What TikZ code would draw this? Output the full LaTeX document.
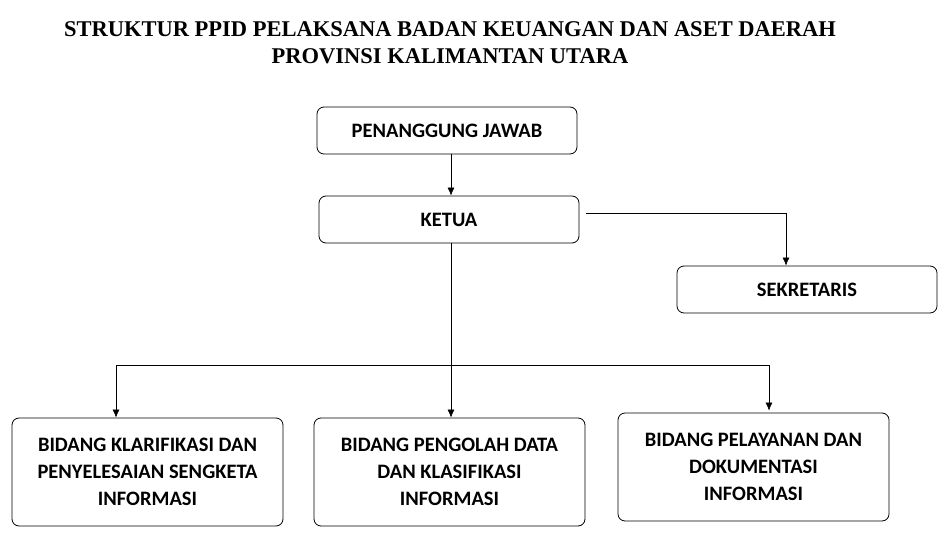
\documentclass[tikz,border=0pt]{standalone}
\usetikzlibrary{arrows.meta}
\usepackage{fontspec}
\newfontfamily\boxfont{Carlito}
\newfontfamily\titlefont{Liberation Serif}
\begin{document}
\begin{tikzpicture}[x=1pt,y=-1pt,
  box/.style={draw,thick,rounded corners=7pt,align=center,font=\boxfont\bfseries\fontsize{20.5}{27}\selectfont,inner sep=0pt},
  conn/.style={-{Latex[length=8pt,width=7pt]},line width=0.6pt},
  ln/.style={line width=0.6pt}]
\useasboundingbox (0,0) rectangle (950,548);
\node[font=\titlefont\bfseries\fontsize{22.5}{27}\selectfont,align=center] (title) at (450,43) {STRUKTUR PPID PELAKSANA BADAN KEUANGAN DAN ASET DAERAH\\PROVINSI KALIMANTAN UTARA};
\node[box,minimum width=260pt,minimum height=47pt] (pj) at (447,130.5) {PENANGGUNG JAWAB};
\node[box,minimum width=260pt,minimum height=47pt] (ketua) at (449,219.5) {KETUA};
\node[box,minimum width=260pt,minimum height=47pt] (sek) at (807,289.5) {SEKRETARIS};
\node[box,minimum width=271pt,minimum height=108pt] (b1) at (147.5,472) {BIDANG KLARIFIKASI DAN\\PENYELESAIAN SENGKETA\\INFORMASI};
\node[box,minimum width=271pt,minimum height=108pt] (b2) at (449.5,472) {BIDANG PENGOLAH DATA\\DAN KLASIFIKASI\\INFORMASI};
\node[box,minimum width=271pt,minimum height=108pt] (b3) at (753.5,467) {BIDANG PELAYANAN DAN\\DOKUMENTASI\\INFORMASI};
\coordinate (ks) at (586,213);
\coordinate (bus) at (451,365);
\draw[conn] (451,154) -- (ketua.north -| 451,0);
\draw[conn] (ks) -| (sek.north -| 786,0);
\draw[conn] (ketua.south -| bus) -- (b2.north -| bus);
\draw[ln] (116,365) -- (769,365);
\draw[conn] (116,365) -- (b1.north -| 116,0);
\draw[conn] (769,365) -- ([yshift=2pt]b3.north -| 769,0);
\end{tikzpicture}
\end{document}
